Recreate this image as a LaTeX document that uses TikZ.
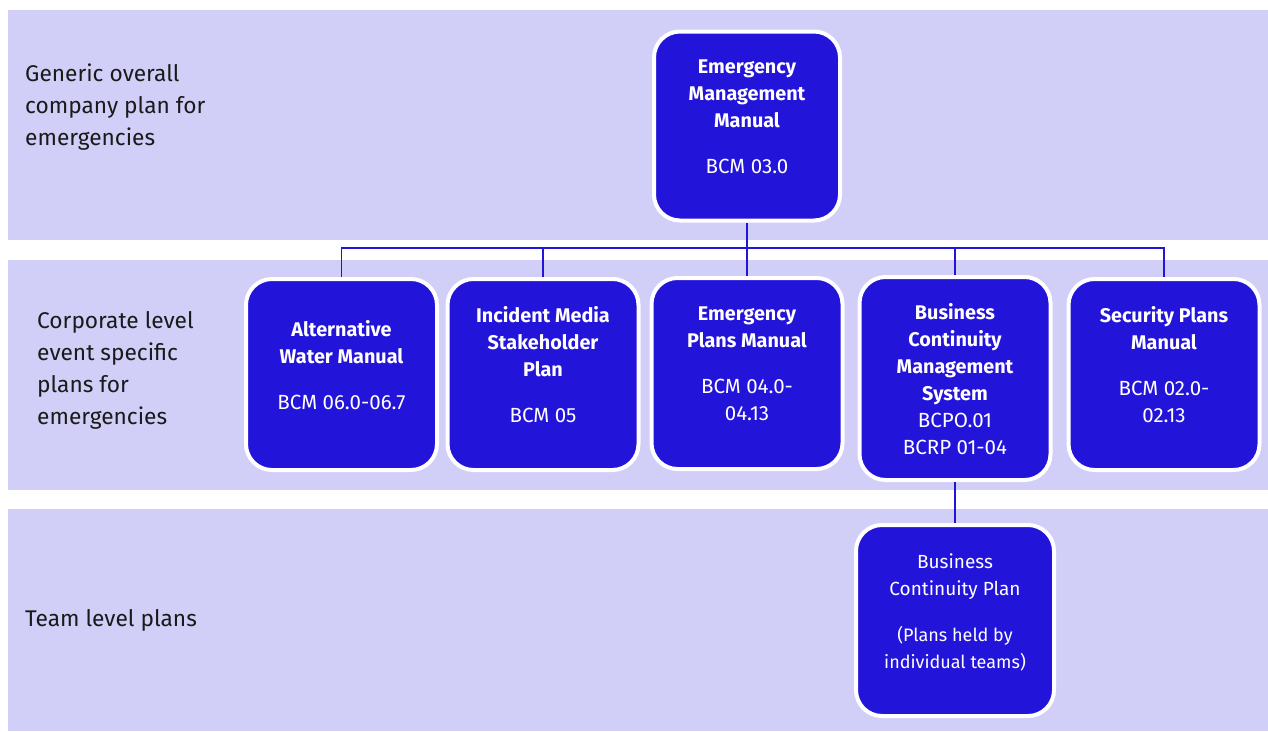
\documentclass[tikz,border=0pt]{standalone}
\usepackage{fontspec}
\setmainfont{Fira Sans}
\definecolor{bandfill}{HTML}{D1CEF7}
\definecolor{boxblue}{HTML}{2314D9}
\definecolor{labeltext}{HTML}{1A1A1A}
\newcommand\boxttl[1]{{\fontsize{19.8}{27}\selectfont\bfseries #1}}
\newcommand\boxcode[1]{{\fontsize{20.5}{27}\selectfont #1}}
\newcommand\boxsmall[1]{{\fontsize{18}{26}\selectfont #1}}
\begin{document}
\begin{tikzpicture}[x=1pt,y=-1pt,
  bandrect/.style={fill=bandfill,draw=none},
  planbox/.style={draw=white,line width=4pt,fill=boxblue,rounded corners=26pt,
    minimum width=191pt,minimum height=191pt,inner sep=0pt},
  boxtext/.style={text=white,align=center,font=\fontsize{19}{27}\selectfont,inner sep=0pt},
  rowlabel/.style={anchor=west,align=left,text=labeltext,font=\fontsize{22.7}{32}\selectfont,inner sep=0pt},
  conn/.style={draw=boxblue,line width=1.6pt}]
\useasboundingbox (0,0) rectangle (1268,731);
\fill[white] (0,0) rectangle (1268,731);
% bands
\path[bandrect] (8,10) rectangle (1268,240);
\path[bandrect] (8,260) rectangle (1268,490);
\path[bandrect] (8,509) rectangle (1268,731);
% row labels
\node[rowlabel] (l1) at (25,107.5) {Generic overall\\company plan for\\emergencies};
\node[rowlabel] (l2) at (37,370) {Corporate level\\event specific\\plans for\\emergencies};
\node[rowlabel] (l3) at (25,620) {Team level plans};
% boxes
\node[planbox,minimum width=186pt,minimum height=189pt] (top) at (747,126) {};
\node[planbox] (b1) at (341.5,374.5) {};
\node[planbox] (b2) at (543,374.5) {};
\node[planbox] (b3) at (747,373.5) {};
\node[planbox,minimum height=203pt] (b4) at (955,378.5) {};
\node[planbox] (b5) at (1164,374.5) {};
\node[planbox,minimum width=198pt] (b6) at (955,620.5) {};
% connectors
\coordinate (bus) at (747,248);
\draw[conn] (top.south) -- (top.south |- bus);
\draw[conn] (b1.north) -- (b1.north |- bus) -- (b5.north |- bus) -- (b5.north);
\draw[conn] (b2.north) -- (b2.north |- bus);
\draw[conn] (b3.north) -- (b3.north |- bus);
\draw[conn] (b4.north) -- (b4.north |- bus);
\draw[conn] (b4.south) -- (b6.north);
% box texts
\node[boxtext] (topt) at (747,117) {\boxttl{Emergency}\\\boxttl{Management}\\\boxttl{Manual}\\[19pt]\boxcode{BCM 03.0}};
\node[boxtext] (b1t) at (341.5,365) {\boxttl{Alternative}\\\boxttl{Water Manual}\\[19pt]\boxcode{BCM 06.0-06.7}};
\node[boxtext] (b2t) at (543,365) {\boxttl{Incident Media}\\\boxttl{Stakeholder}\\\boxttl{Plan}\\[19pt]\boxcode{BCM 05}};
\node[boxtext] (b3t) at (747,364) {\boxttl{Emergency}\\\boxttl{Plans Manual}\\[19pt]\boxcode{BCM 04.0-}\\\boxcode{04.13}};
\node[boxtext] (b4t) at (955,379.5) {\boxttl{Business}\\\boxttl{Continuity}\\\boxttl{Management}\\\boxttl{System}\\\boxcode{BCPO.01}\\\boxcode{BCRP 01-04}};
\node[boxtext] (b5t) at (1164,364.5) {\boxttl{Security Plans}\\\boxttl{Manual}\\[19pt]\boxcode{BCM 02.0-}\\\boxcode{02.13}};
\node[boxtext] (b6t) at (955,612.5) {Business\\Continuity Plan\\[19pt]\boxsmall{(Plans held by}\\\boxsmall{individual teams)}};
\end{tikzpicture}
\end{document}
